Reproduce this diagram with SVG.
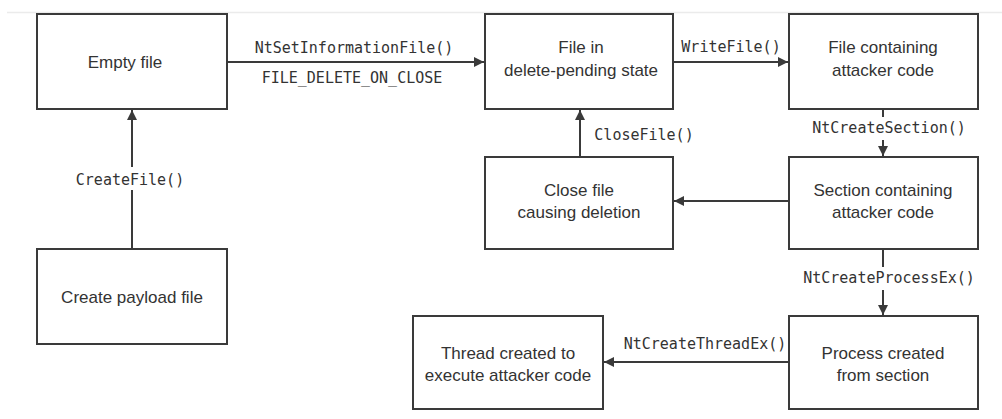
<svg xmlns="http://www.w3.org/2000/svg" width="1002" height="419" viewBox="0 0 1002 419">
<style>
.box{fill:#fff;stroke:#3a3a3a;stroke-width:2}
.t{font-family:"Liberation Sans",Arial,sans-serif;font-size:17px;fill:#333;text-anchor:middle}
.m{font-family:"DejaVu Sans Mono","Liberation Mono",monospace;font-size:15px;fill:#333;text-anchor:middle}
.c{stroke:#3a3a3a;stroke-width:2;fill:none}
</style>
<defs>
<marker id="ah" viewBox="0 0 10 10" refX="10" refY="5" markerWidth="5" markerHeight="5" orient="auto" markerUnits="strokeWidth">
<path d="M0,0 L10,5 L0,10 z" fill="#3a3a3a"/>
</marker>
</defs>
<rect width="1002" height="419" fill="#fff"/>
<line x1="7" y1="12.5" x2="1002" y2="12.5" stroke="#ebebeb" stroke-width="1.5"/>
<g id="connectors">
<line class="c" x1="132" y1="249" x2="132" y2="190"/>
<line class="c" x1="132" y1="167" x2="132" y2="110" marker-end="url(#ah)"/>
<line class="c" x1="227" y1="62" x2="484" y2="62" marker-end="url(#ah)"/>
<line class="c" x1="673" y1="62" x2="788" y2="62" marker-end="url(#ah)"/>
<line class="c" x1="883" y1="109" x2="883" y2="117"/>
<line class="c" x1="883" y1="140" x2="883" y2="156" marker-end="url(#ah)"/>
<line class="c" x1="789" y1="201" x2="674" y2="201" marker-end="url(#ah)"/>
<line class="c" x1="580" y1="157" x2="580" y2="110" marker-end="url(#ah)"/>
<line class="c" x1="883" y1="249" x2="883" y2="267"/>
<line class="c" x1="883" y1="290" x2="883" y2="315" marker-end="url(#ah)"/>
<line class="c" x1="789" y1="362" x2="604" y2="362" marker-end="url(#ah)"/>
<text class="m" x="130" y="185">CreateFile()</text>
<text class="m" x="354" y="53">NtSetInformationFile()</text>
<text class="m" x="352" y="83">FILE_DELETE_ON_CLOSE</text>
<text class="m" x="731" y="52">WriteFile()</text>
<text class="m" x="889" y="133">NtCreateSection()</text>
<text class="m" x="644" y="140">CloseFile()</text>
<text class="m" x="889" y="283">NtCreateProcessEx()</text>
<text class="m" x="705" y="349">NtCreateThreadEx()</text>
</g>
<g id="empty-file">
<rect class="box" x="37" y="14" width="190" height="95"/>
<text class="t" x="125" y="68">Empty file</text>
</g>
<g id="create-payload">
<rect class="box" x="37" y="249" width="190" height="95"/>
<text class="t" x="132" y="303">Create payload file</text>
</g>
<g id="delete-pending">
<rect class="box" x="485" y="14" width="188" height="95"/>
<text class="t" x="581" y="53">File in</text>
<text class="t" x="581" y="76">delete-pending state</text>
</g>
<g id="file-attacker">
<rect class="box" x="789" y="14" width="189" height="95"/>
<text class="t" x="883" y="53">File containing</text>
<text class="t" x="883" y="76">attacker code</text>
</g>
<g id="close-file">
<rect class="box" x="485" y="157" width="188" height="92"/>
<text class="t" x="579" y="196">Close file</text>
<text class="t" x="579" y="218">causing deletion</text>
</g>
<g id="section-attacker">
<rect class="box" x="789" y="157" width="189" height="92"/>
<text class="t" x="883" y="196">Section containing</text>
<text class="t" x="883" y="218">attacker code</text>
</g>
<g id="process-created">
<rect class="box" x="789" y="316" width="189" height="93"/>
<text class="t" x="883" y="359">Process created</text>
<text class="t" x="883" y="381">from section</text>
</g>
<g id="thread-created">
<rect class="box" x="413" y="316" width="190" height="93"/>
<text class="t" x="508" y="359">Thread created to</text>
<text class="t" x="508" y="381">execute attacker code</text>
</g>
</svg>
